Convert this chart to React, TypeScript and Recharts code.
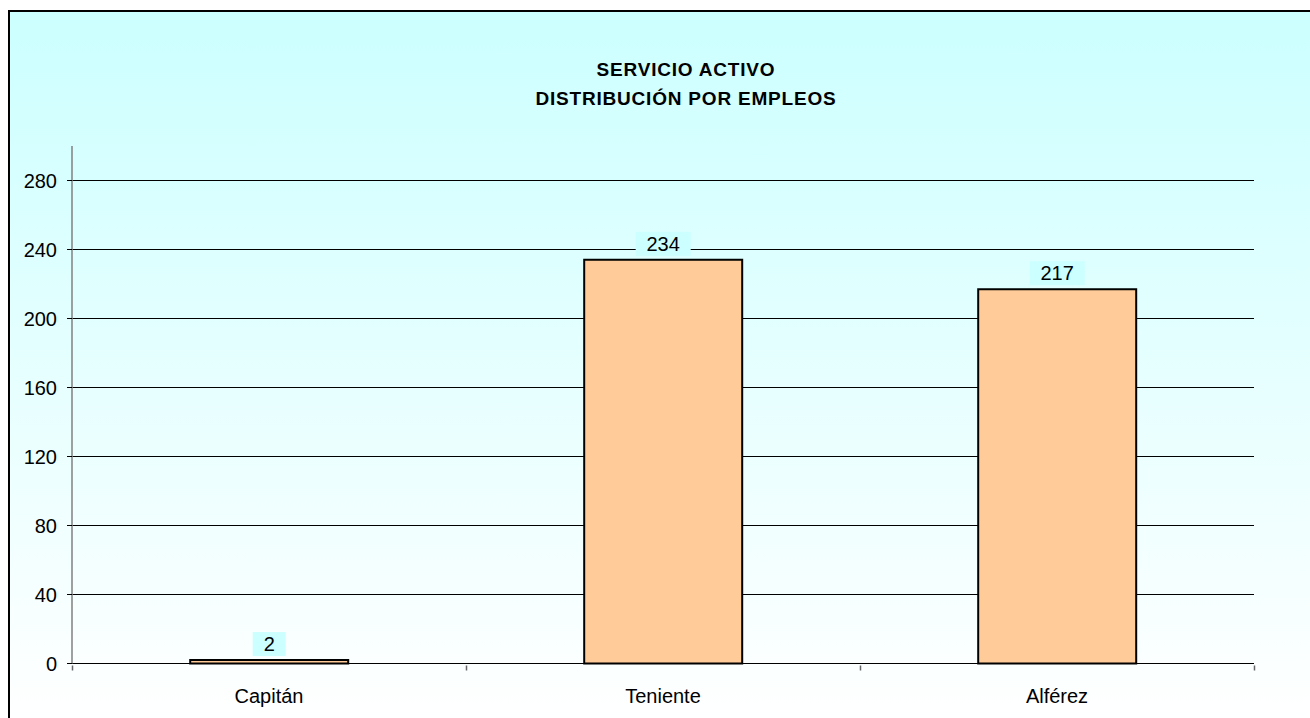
import { BarChart, Bar, XAxis, YAxis, CartesianGrid, LabelList } from "recharts";

const categories = ["Capitán", "Teniente", "Alférez"];
const values = [2, 234, 217];
const yTicks = [0, 40, 80, 120, 160, 200, 240, 280];
const titleLines = ["SERVICIO ACTIVO", "DISTRIBUCIÓN POR EMPLEOS"];

const data = categories.map((name, i) => ({ name, value: values[i] }));

const FONT = "'Liberation Sans', Arial, sans-serif";

// label in a small cyan box above each bar
const ValueLabel = (props: any) => {
  const { x, y, width, value } = props;
  const text = String(value);
  const boxW = text.length * 11 + 22;
  const boxH = 24;
  const cx = x + width / 2;
  const bottom = y - 4;
  return (
    <g>
      <rect x={cx - boxW / 2} y={bottom - boxH} width={boxW} height={boxH} fill="#ccffff" />
      <text x={cx} y={bottom - 5} textAnchor="middle" fontSize={20} fontFamily={FONT} fill="#000">
        {text}
      </text>
    </g>
  );
};

// category tick: label in the middle, tick marks on the band edges
const CategoryTick = (props: any) => {
  const { x, y, payload, visibleTicksCount } = props;
  const half = payload.offset ?? 0;
  const isLast = payload.index === (visibleTicksCount ?? categories.length) - 1;
  const lx = Math.round(x - half) + 0.5;
  const rx = Math.round(x + half) + 0.5;
  return (
    <g>
      <line x1={lx} x2={lx} y1={y} y2={y + 5} stroke="#666" strokeWidth={1.5} />
      {isLast && <line x1={rx} x2={rx} y1={y} y2={y + 5} stroke="#666" strokeWidth={1.5} />}
      <text x={x} y={y + 37} textAnchor="middle" fontSize={20} fontFamily={FONT} fill="#000">
        {payload.value}
      </text>
    </g>
  );
};

export default function App() {
  return (
    <div
      style={{
        position: "absolute",
        left: 8,
        top: 10,
        width: 1302,
        height: 708,
        boxSizing: "border-box",
        borderTop: "2px solid #000",
        borderLeft: "2px solid #000",
        background: "linear-gradient(180deg, #ccffff 0%, #ffffff 100%)",
        fontFamily: FONT,
      }}
    >
      <div
        style={{
          position: "absolute",
          left: 376,
          top: 43,
          width: 600,
          textAlign: "center",
          fontWeight: "bold",
          fontSize: 19,
          letterSpacing: 0.8,
          lineHeight: "29px",
          color: "#000",
        }}
      >
        {titleLines.map((t) => (
          <div key={t}>{t}</div>
        ))}
      </div>
      <BarChart
        width={1300}
        height={706}
        data={data}
        margin={{ top: 134, right: 56, left: 10, bottom: 24.5 }}
        barCategoryGap="30%"
      >
        <CartesianGrid
          horizontal
          vertical={false}
          horizontalValues={yTicks}
          stroke="#000"
          strokeWidth={1}
        />
        <XAxis
          dataKey="name"
          axisLine={{ stroke: "#000", strokeWidth: 1 }}
          tickLine={false}
          tickSize={0}
          height={30}
          tick={<CategoryTick />}
        />
        <YAxis
          domain={[0, 300]}
          ticks={yTicks}
          width={52}
          tickSize={5}
          tickMargin={10}
          axisLine={{ stroke: "#808080", strokeWidth: 1.5 }}
          tickLine={{ stroke: "#000" }}
          tick={{ fontSize: 20, fill: "#000", fontFamily: FONT }}
        />
        <Bar dataKey="value" fill="#ffcc99" stroke="#000" strokeWidth={2} isAnimationActive={false}>
          <LabelList dataKey="value" content={<ValueLabel />} />
        </Bar>
      </BarChart>
    </div>
  );
}
